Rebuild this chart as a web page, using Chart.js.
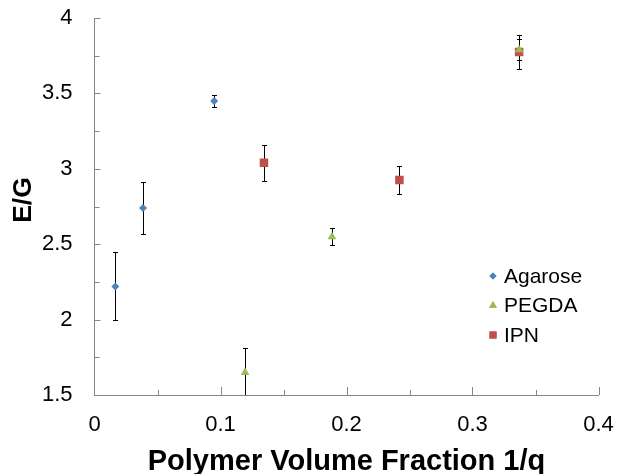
<!DOCTYPE html>
<html>
<head>
<meta charset="utf-8">
<script src="https://cdn.jsdelivr.net/npm/chart.js@4.4.1/dist/chart.umd.min.js"></script>
<style>
  html, body { margin: 0; padding: 0; background: #fff; }
  #wrap { width: 618px; height: 474px; }
</style>
</head>
<body>
<div id="wrap"><canvas id="chart" width="618" height="474"></canvas></div>
<script>
// E/G vs polymer volume fraction

const seriesNames = ['Agarose', 'PEGDA', 'IPN'];

const agaroseX = [0.0165, 0.0385, 0.095];
const agaroseY = [2.22, 2.74, 3.45];
const agaroseErr = [0.225, 0.175, 0.04];

const pegdaX = [0.1195, 0.1885, 0.337];
const pegdaY = [1.65, 2.55, 3.79];
const pegdaErr = [0.16, 0.055, 0.07];

const ipnX = [0.1345, 0.242, 0.337];
const ipnY = [3.04, 2.925, 3.775];
const ipnErr = [0.12, 0.095, 0.11];

const xTicks = [0, 0.1, 0.2, 0.3, 0.4];
const yTicks = [1.5, 2, 2.5, 3, 3.5, 4];

const FONT = "'Liberation Sans', Arial, sans-serif";
const AXIS_COLOR = '#868686';

function toPoints(xs, ys, errs) {
  return xs.map((x, i) => ({ x, y: ys[i], err: errs[i] }));
}

// Excel-style vertical error bars with small caps, drawn under the markers
const errorBars = {
  id: 'errorBars',
  beforeDatasetsDraw(chart) {
    const { ctx, chartArea, scales } = chart;
    ctx.save();
    ctx.beginPath();
    ctx.rect(chartArea.left, chartArea.top - 1, chartArea.width, chartArea.height + 1);
    ctx.clip();
    ctx.strokeStyle = '#000';
    ctx.lineWidth = 1;
    chart.data.datasets.forEach((ds) => {
      ds.data.forEach((p) => {
        const x = Math.round(scales.x.getPixelForValue(p.x)) + 0.5;
        const yTop = Math.round(scales.y.getPixelForValue(p.y + p.err)) + 0.5;
        const yBot = Math.round(scales.y.getPixelForValue(p.y - p.err)) + 0.5;
        ctx.beginPath();
        ctx.moveTo(x, yTop);
        ctx.lineTo(x, yBot);
        ctx.moveTo(x - 2.5, yTop);
        ctx.lineTo(x + 2.5, yTop);
        ctx.moveTo(x - 2.5, yBot);
        ctx.lineTo(x + 2.5, yBot);
        ctx.stroke();
      });
    });
    ctx.restore();
  },
};

// tick marks pointing into the plot, major + minor
const insideTicks = {
  id: 'insideTicks',
  afterDraw(chart) {
    const { ctx, chartArea, scales } = chart;
    ctx.save();
    ctx.strokeStyle = AXIS_COLOR;
    ctx.lineWidth = 1;
    ctx.beginPath();
    for (let i = 0; i < xTicks.length; i++) {
      const v = xTicks[i];
      const px = Math.round(scales.x.getPixelForValue(v)) + 0.5;
      const len = i === 0 ? 0 : 8;
      ctx.moveTo(px, chartArea.bottom);
      ctx.lineTo(px, chartArea.bottom - len);
      if (i < xTicks.length - 1) {
        const mid = (v + xTicks[i + 1]) / 2;
        const mx = Math.round(scales.x.getPixelForValue(mid)) + 0.5;
        ctx.moveTo(mx, chartArea.bottom);
        ctx.lineTo(mx, chartArea.bottom - 5);
      }
    }
    for (let i = 0; i < yTicks.length; i++) {
      const v = yTicks[i];
      const py = Math.round(scales.y.getPixelForValue(v)) + 0.5;
      const len = i === 0 ? 0 : 6;
      ctx.moveTo(chartArea.left, py);
      ctx.lineTo(chartArea.left + len, py);
      if (i < yTicks.length - 1) {
        const mid = (v + yTicks[i + 1]) / 2;
        const my = Math.round(scales.y.getPixelForValue(mid)) + 0.5;
        ctx.moveTo(chartArea.left, my);
        ctx.lineTo(chartArea.left + 5, my);
      }
    }
    ctx.stroke();
    ctx.restore();
  },
};

// legend inside the plot (lower right) and the rotated y title
const floatingLegend = {
  id: 'floatingLegend',
  afterDraw(chart) {
    const { ctx } = chart;
    const x0 = 493;
    const y0 = 276;
    const rowGap = 29.5;
    ctx.save();
    ctx.font = `21px ${FONT}`;
    ctx.textBaseline = 'middle';
    ctx.textAlign = 'left';
    chart.data.datasets.forEach((ds, i) => {
      const y = y0 + i * rowGap;
      ctx.fillStyle = ds.backgroundColor;
      Chart.helpers.drawPoint(ctx, {
        pointStyle: ds.pointStyle,
        radius: ds.legendRadius,
        borderWidth: 0,
        rotation: 0,
      }, x0, y);
      ctx.fill();
      ctx.fillStyle = '#000';
      ctx.fillText(ds.label, x0 + 11, y + 1);
    });

    ctx.translate(23, 200);
    ctx.rotate(-Math.PI / 2);
    ctx.textAlign = 'center';
    ctx.font = `bold 26.5px ${FONT}`;
    ctx.fillText('E/G', 0, 1);
    ctx.restore();
  },
};

function fmt(v) {
  return String(Math.round(v * 100) / 100);
}

// invisible tick marks just to push the labels away from the axis
const hiddenGrid = (len) => ({
  display: true,
  drawOnChartArea: false,
  drawTicks: true,
  tickLength: len,
  color: 'rgba(0,0,0,0)',
});

new Chart(document.getElementById('chart'), {
  type: 'scatter',
  data: {
    datasets: [
      {
        label: seriesNames[0],
        data: toPoints(agaroseX, agaroseY, agaroseErr),
        backgroundColor: '#4F81BD',
        borderWidth: 0,
        pointStyle: 'rectRot',
        pointRadius: 4,
        legendRadius: 3.5,
      },
      {
        label: seriesNames[1],
        data: toPoints(pegdaX, pegdaY, pegdaErr),
        backgroundColor: '#9BBB59',
        borderWidth: 0,
        pointStyle: 'triangle',
        pointRadius: 5,
        legendRadius: 4.5,
      },
      {
        label: seriesNames[2],
        data: toPoints(ipnX, ipnY, ipnErr),
        backgroundColor: '#C0504D',
        borderWidth: 0,
        pointStyle: 'rect',
        pointRadius: 6,
        legendRadius: 5,
      },
    ],
  },
  options: {
    responsive: false,
    animation: false,
    devicePixelRatio: 1,
    layout: { padding: { top: 18, right: 19.5, left: 0, bottom: 0 } },
    plugins: {
      legend: { display: false },
      tooltip: { enabled: false },
    },
    scales: {
      x: {
        type: 'linear',
        min: 0,
        max: 0.4,
        afterBuildTicks: (scale) => { scale.ticks = xTicks.map((v) => ({ value: v })); },
        afterFit: (scale) => { scale.height = 79; },
        grid: hiddenGrid(15),
        border: { display: true, color: AXIS_COLOR, width: 1 },
        ticks: {
          padding: 2,
          color: '#000',
          font: { family: FONT, size: 22 },
          callback: (v) => fmt(v),
          maxRotation: 0,
        },
        title: {
          display: true,
          text: 'Polymer Volume Fraction 1/q',
          color: '#000',
          font: { family: FONT, size: 29, weight: 'bold', lineHeight: 1.2 },
          padding: { top: 0, bottom: -5 },
        },
      },
      y: {
        type: 'linear',
        min: 1.5,
        max: 4,
        afterBuildTicks: (scale) => { scale.ticks = yTicks.map((v) => ({ value: v })); },
        afterFit: (scale) => { scale.width = 94.5; },
        grid: hiddenGrid(20),
        border: { display: true, color: AXIS_COLOR, width: 1 },
        ticks: {
          padding: 2,
          color: '#000',
          font: { family: FONT, size: 22 },
          callback: (v) => fmt(v),
        },
        title: { display: false },
      },
    },
  },
  plugins: [errorBars, insideTicks, floatingLegend],
});
</script>
</body>
</html>
